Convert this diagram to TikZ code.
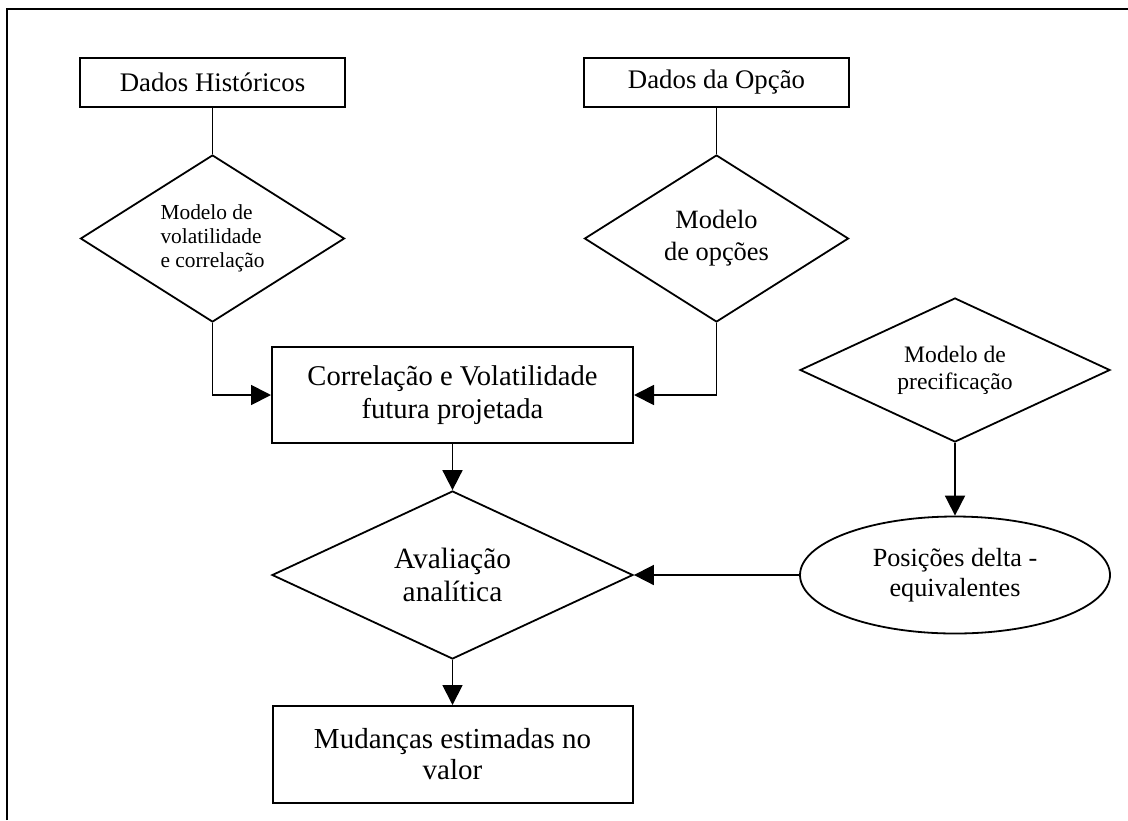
\documentclass[tikz,border=0pt]{standalone}
\usepackage{fontspec}
\setmainfont{Liberation Serif}
\usetikzlibrary{shapes.geometric,arrows.meta}

\begin{document}
\begin{tikzpicture}[x=0.5pt, y=-0.5pt, >={Triangle[length=10pt,width=10pt]}, line width=0.9pt,
    databox/.style={draw, rectangle, line width=1pt, align=center, inner sep=0pt},
    modeldiamond/.style={draw, diamond, line width=0.9pt, align=center, inner sep=0pt},
    flow/.style={->, line width=0.9pt}]
    \useasboundingbox (0,0) rectangle (1128,820);

    % Frame
    \draw[line width=1pt] (7,820) -- (7,9) -- (1128,9);

    % Data inputs
    \node[databox, minimum width=132.5pt, minimum height=24.5pt, font=\fontsize{13.4}{16}\selectfont]
        (hist) at (212.5,82.5) {Dados Históricos};
    \node[databox, minimum width=132.5pt, minimum height=24.5pt, font=\fontsize{13.4}{16}\selectfont]
        (optdata) at (716.5,82.5) {Dados da Opção};

    % Models
    \node[modeldiamond, aspect=1.58, minimum width=132pt, minimum height=83.5pt, align=left,
        font=\fontsize{10.7}{12}\selectfont]
        (volmod) at (212.5,238.5) {Modelo de\\volatilidade\\e correlação};
    \node[modeldiamond, aspect=1.58, minimum width=132pt, minimum height=83.5pt,
        font=\fontsize{13.2}{16}\selectfont]
        (optmod) at (716.5,238.5) {Modelo\\de opções};
    \node[modeldiamond, aspect=2.15, minimum width=155pt, minimum height=72pt,
        font=\fontsize{11.8}{13.5}\selectfont]
        (pricemod) at (955,370) {Modelo de\\precificação};

    % Projection and evaluation
    \node[databox, minimum width=180.5pt, minimum height=48pt, font=\fontsize{14.3}{16.5}\selectfont]
        (corrvol) at (452.5,395) {Correlação e Volatilidade\\futura projetada};
    \node[modeldiamond, aspect=2.15, minimum width=180.5pt, minimum height=84pt,
        font=\fontsize{14.7}{16.5}\selectfont]
        (evalan) at (452.5,575) {Avaliação\\analítica};
    \node[draw, ellipse, line width=0.9pt, minimum width=155pt, minimum height=58.5pt, inner sep=0pt,
        align=center, font=\fontsize{13.1}{15}\selectfont]
        (deltapos) at (955,575) {Posições delta -\\equivalentes};
    \node[databox, minimum width=180pt, minimum height=48.5pt, font=\fontsize{14.5}{15.5}\selectfont]
        (changes) at (452.5,754.5) {Mudanças estimadas no\\valor};

    % Connectors
    \draw (hist.south) -- (volmod.north);
    \draw (optdata.south) -- (optmod.north);
    \draw[flow] (volmod.south) |- (corrvol.west);
    \draw[flow] (optmod.south) |- (corrvol.east);
    \draw[flow] (corrvol.south) -- (evalan.north);
    \draw[flow] (pricemod.south) -- (deltapos.north);
    \draw[flow] (deltapos.west) -- (evalan.east);
    \draw[flow] (evalan.south) -- (changes.north);
\end{tikzpicture}
\end{document}
